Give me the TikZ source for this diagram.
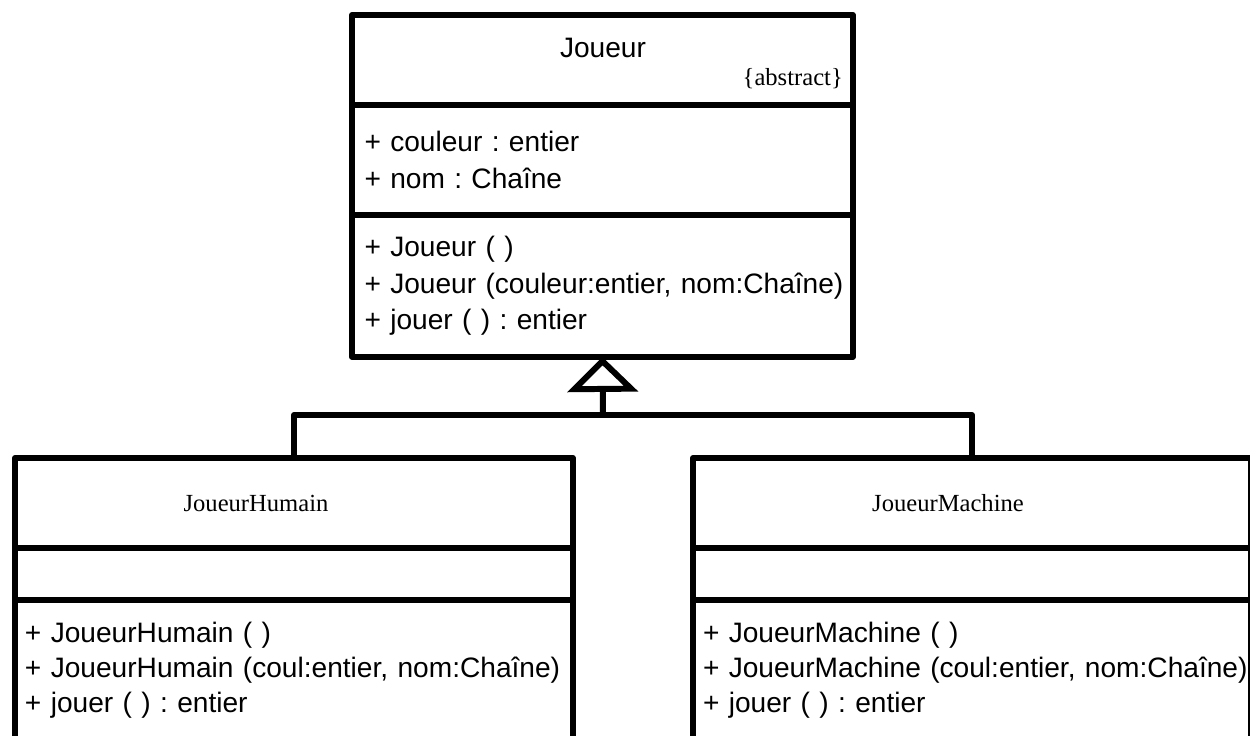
\documentclass[tikz,border=0pt]{standalone}
\usepackage{fontspec}
\setmainfont{Liberation Sans}
\newfontfamily\serifname{Liberation Serif}
\usetikzlibrary{arrows.meta}
\frenchspacing

\tikzset{
  part/.style={draw, line width=3.4pt, line join=round, anchor=north west,
    outer sep=0pt, inner ysep=0pt, align=left},
  cname/.style={font=\serifname\fontsize{14}{16}\selectfont},
  link/.style={line width=3.4pt, line join=round},
}

\begin{document}
\begin{tikzpicture}[x=0.02cm, y=-0.02cm, font=\fontsize{16}{20}\selectfont]
  \useasboundingbox (0,0) rectangle (1250,736);
  \clip (0,0) rectangle (1250,736);

  % classe abstraite
  \node[part, minimum width=10.02cm, minimum height=1.8cm] (jtitle) at (352,15) {};
  \node[part, text width=9.52cm, inner xsep=0.25cm, minimum height=2.2cm,
    font=\fontsize{16}{20.8}\selectfont] (jattr) at (jtitle.south west)
    {+ couleur : entier\\+ nom : Chaîne};
  \node[part, text width=9.52cm, inner xsep=0.25cm, minimum height=2.84cm,
    font=\fontsize{16}{20.8}\selectfont] (jmeth) at (jattr.south west)
    {+ Joueur ( )\\\mbox{+ Joueur (couleur:entier, nom:Chaîne)}\\+ jouer ( ) : entier};
  \node (jname) at (603,48) {Joueur};
  \node[cname, anchor=east] (jabs) at (849,79) {\{abstract\}};

  % sous-classes
  \node[part, minimum width=11.16cm, minimum height=1.8cm] (htitle) at (15,458) {};
  \node[part, minimum width=11.16cm, minimum height=1.04cm] (hattr) at (htitle.south west) {};
  \node[part, text width=10.76cm, inner xsep=0.2cm, minimum height=2.8cm] (hmeth) at (hattr.south west)
    {+ JoueurHumain ( )\\\mbox{+ JoueurHumain (coul:entier, nom:Chaîne)}\\+ jouer ( ) : entier};
  \node[cname] (hname) at (256,503) {JoueurHumain};

  \node[part, minimum width=11.16cm, minimum height=1.8cm] (mtitle) at (693,458) {};
  \node[part, minimum width=11.16cm, minimum height=1.04cm] (mattr) at (mtitle.south west) {};
  \node[part, text width=10.76cm, inner xsep=0.2cm, minimum height=2.8cm] (mmeth) at (mattr.south west)
    {+ JoueurMachine ( )\\\mbox{+ JoueurMachine (coul:entier, nom:Chaîne)}\\+ jouer ( ) : entier};
  \node[cname] (mname) at (948,503) {JoueurMachine};

  % heritage
  \coordinate (fork) at (603,415);
  \draw[link, -{Triangle[open, length=0.7cm, width=1.4cm]}] (fork) -- (jmeth.south);
  \draw[link] (htitle.north) |- (fork) -| (mtitle.north);
\end{tikzpicture}
\end{document}
